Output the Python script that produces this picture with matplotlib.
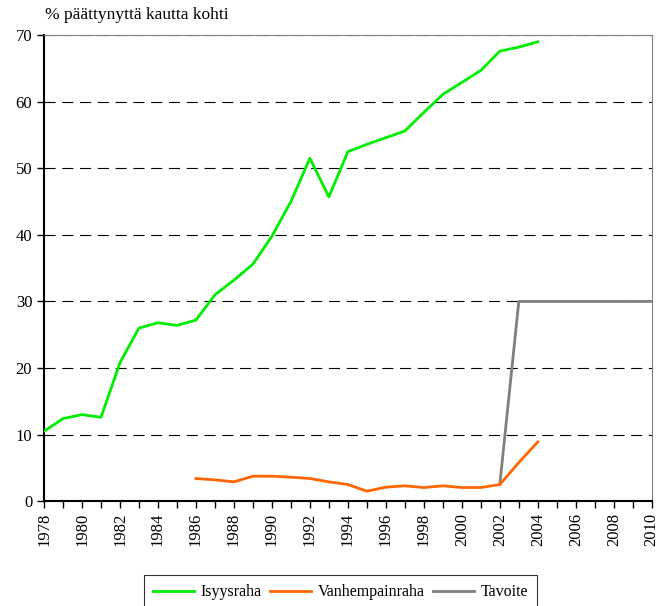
import numpy as np
import matplotlib as mpl
mpl.use('Agg')
import matplotlib.pyplot as pl

mpl.rcParams['font.family'] = 'serif'
mpl.rcParams['font.serif'] = ['Liberation Serif', 'DejaVu Serif']

# data
years_isyys = list(range(1978, 2005))
isyysraha = [10.5, 12.4, 13.0, 12.6, 20.8, 26.0, 26.8, 26.4, 27.2, 31.0,
             33.2, 35.6, 39.8, 45.0, 51.5, 45.7, 52.5, 53.6, 54.6, 55.6,
             58.4, 61.1, 62.9, 64.7, 67.6, 68.2, 69.0]

years_vanh = list(range(1986, 2005))
vanhempainraha = [3.4, 3.2, 2.9, 3.75, 3.75, 3.6, 3.4, 2.9, 2.5, 1.5,
                  2.1, 2.3, 2.05, 2.3, 2.05, 2.05, 2.5, 5.8, 8.9]

years_tavoite = list(range(2002, 2011))
tavoite = [2.5, 30, 30, 30, 30, 30, 30, 30, 30]

year_ticks = list(range(1978, 2011))
year_labels = [str(y) if y % 2 == 0 else '' for y in year_ticks]
y_ticks = [0, 10, 20, 30, 40, 50, 60, 70]

fig = pl.figure(figsize=(6.57, 6.06), dpi=100)
ax = fig.add_axes([0.067, 0.173, 0.925, 0.769])

for yv in y_ticks[1:]:
    ax.axhline(yv, color='k', linestyle=(0, (10, 6)), linewidth=0.8, zorder=1)

ax.plot(years_isyys, isyysraha, color='#00ee00', linewidth=2.0, label='Isyysraha', zorder=3)
ax.plot(years_vanh, vanhempainraha, color='#ff6600', linewidth=2.0, label='Vanhempainraha', zorder=3)
ax.plot(years_tavoite, tavoite, color='#808080', linewidth=2.0, label='Tavoite', zorder=2)

ax.set_xlim(1978, 2010)
ax.set_ylim(0, 70)
ax.set_xticks(year_ticks)
ax.set_xticklabels(year_labels, rotation=90, fontsize=12)
ax.set_yticks(y_ticks)
ax.set_yticklabels([str(v) for v in y_ticks], fontsize=12)
ax.tick_params(direction='out', length=5, width=1, colors='k')

ax.spines['left'].set_color('k')
ax.spines['left'].set_linewidth(1.5)
ax.spines['bottom'].set_color('k')
ax.spines['bottom'].set_linewidth(1.5)
ax.spines['right'].set_color('#808080')
ax.spines['top'].set_color('#808080')

fig.text(0.068, 0.962, '% päättynyttä kautta kohti', fontsize=12.5, ha='left', va='bottom')

leg = fig.legend(loc='lower center', bbox_to_anchor=(0.518, -0.018), ncol=3, fontsize=11.5,
                 frameon=True, fancybox=False, edgecolor='k', handlelength=2.6,
                 columnspacing=0.5, handletextpad=0.4, borderpad=0.55)
leg.get_frame().set_linewidth(0.8)

pl.savefig('out.png', dpi=100)
pl.close()
